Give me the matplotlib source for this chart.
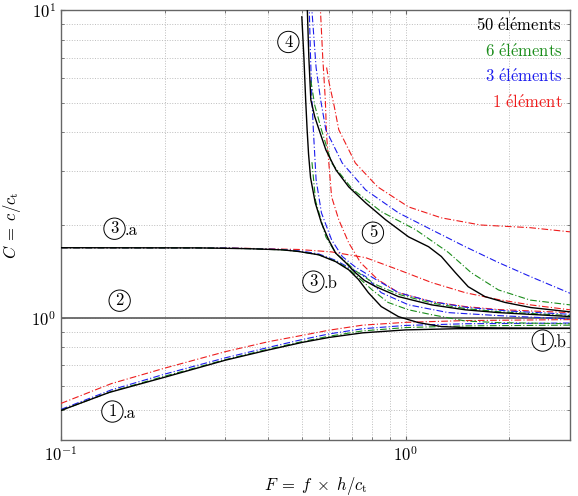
import matplotlib
matplotlib.use("Agg")
import matplotlib.pyplot as plt
from matplotlib.ticker import NullFormatter, LogLocator

plt.rcParams['mathtext.fontset'] = 'cm'
plt.rcParams['font.family'] = ['cmr10', 'DejaVu Serif']
plt.rcParams['axes.formatter.use_mathtext'] = True

# --- mode 1 (.a / .b) : lower branch ---
f_m1_50 = [0.1, 0.138, 0.2, 0.3, 0.4, 0.5, 0.6, 0.75, 1.0, 1.4, 3.0]
c_m1_50 = [0.499, 0.571, 0.64, 0.727, 0.785, 0.83, 0.862, 0.892, 0.912, 0.92, 0.922]
f_m1_6 = [0.1, 0.14, 0.2, 0.3, 0.4, 0.5, 0.6, 0.75, 1.0, 1.5, 3.0]
c_m1_6 = [0.499, 0.575, 0.645, 0.73, 0.79, 0.835, 0.87, 0.905, 0.928, 0.94, 0.945]
f_m1_3 = [0.1, 0.14, 0.2, 0.3, 0.4, 0.5, 0.6, 0.75, 1.0, 1.5, 3.0]
c_m1_3 = [0.503, 0.582, 0.655, 0.74, 0.80, 0.848, 0.885, 0.92, 0.943, 0.955, 0.96]
f_m1_1 = [0.1, 0.14, 0.2, 0.3, 0.4, 0.5, 0.6, 0.75, 1.0, 1.5, 3.0]
c_m1_1 = [0.526, 0.61, 0.685, 0.775, 0.835, 0.875, 0.91, 0.945, 0.965, 0.978, 0.985]

# --- mode 3 (.a plateau, .b drop) ---
f_m3_50 = [0.1, 0.25, 0.35, 0.44, 0.49, 0.56, 0.627, 0.684, 0.73, 0.78, 0.85, 0.954,
           1.09, 1.27, 1.49, 2.0, 3.0]
c_m3_50 = [1.687, 1.685, 1.675, 1.66, 1.64, 1.60, 1.52, 1.43, 1.33, 1.205, 1.086, 1.007,
           0.963, 0.935, 0.928, 0.925, 0.923]
f_m3_6 = [0.1, 0.25, 0.35, 0.44, 0.49, 0.56, 0.627, 0.684, 0.73, 0.8, 0.89, 1.02,
          1.19, 1.49, 1.86, 3.0]
c_m3_6 = [1.687, 1.685, 1.675, 1.66, 1.64, 1.60, 1.525, 1.44, 1.35, 1.23, 1.12, 1.06,
          1.022, 0.975, 0.963, 0.955]
f_m3_3 = [0.1, 0.3, 0.44, 0.5, 0.56, 0.627, 0.684, 0.766, 0.85, 1.02, 1.33, 1.86, 3.0]
c_m3_3 = [1.687, 1.684, 1.665, 1.645, 1.61, 1.535, 1.455, 1.36, 1.205, 1.10, 1.038, 1.015, 0.99]
f_m3_1 = [0.1, 0.3, 0.49, 0.61, 0.766, 0.954, 1.19, 1.49, 1.86, 2.3, 3.0]
c_m3_1 = [1.687, 1.685, 1.665, 1.635, 1.566, 1.43, 1.30, 1.205, 1.144, 1.10, 1.06]

# --- mode 4 ---
f_m4_50 = [0.50, 0.507, 0.513, 0.518, 0.523, 0.53, 0.547, 0.57, 0.598, 0.627, 0.67, 0.715,
           0.76, 0.82, 0.954, 1.19, 1.49, 1.86, 3.0]
c_m4_50 = [9.5, 7.0, 5.1, 4.08, 3.4, 2.85, 2.36, 2.03, 1.79, 1.62, 1.51, 1.40,
           1.32, 1.26, 1.17, 1.10, 1.06, 1.038, 1.008]
f_m4_6 = [0.535, 0.548, 0.587, 0.627, 0.67, 0.715, 0.82, 0.954, 1.19, 1.49, 1.86, 3.0]
c_m4_6 = [3.2, 2.4, 1.83, 1.62, 1.52, 1.42, 1.28, 1.19, 1.115, 1.07, 1.045, 1.015]
f_m4_3 = [0.525, 0.53, 0.535, 0.54, 0.55, 0.57, 0.61, 0.655, 0.715, 0.82, 0.954, 1.19,
          1.5, 2.0, 3.0]
c_m4_3 = [10.5, 7.0, 5.1, 4.08, 2.81, 2.19, 1.79, 1.58, 1.46, 1.33, 1.205, 1.127,
          1.08, 1.05, 1.025]
f_m4_1 = [0.565, 0.575, 0.585, 0.59, 0.61, 0.64, 0.684, 0.74, 0.83, 0.954, 1.19, 1.49,
          1.86, 3.0]
c_m4_1 = [10.5, 7.0, 5.1, 3.9, 2.47, 2.08, 1.75, 1.51, 1.33, 1.205, 1.127, 1.086,
          1.062, 1.038]

# --- mode 5 ---
f_m5_50 = [0.518, 0.524, 0.531, 0.545, 0.561, 0.587, 0.628, 0.684, 0.766, 0.875, 1.02,
           1.166, 1.27, 1.395, 1.52, 1.70, 1.945, 2.31, 3.0]
c_m5_50 = [10.5, 7.0, 5.1, 4.5, 4.08, 3.51, 3.02, 2.66, 2.36, 2.08, 1.83,
           1.70, 1.58, 1.40, 1.26, 1.17, 1.12, 1.078, 1.044]
f_m5_6 = [0.531, 0.545, 0.57, 0.61, 0.7, 0.85, 1.07, 1.33, 1.55, 1.86, 2.3, 3.0]
c_m5_6 = [5.9, 4.9, 4.08, 3.18, 2.62, 2.21, 1.93, 1.63, 1.40, 1.23, 1.14, 1.10]
f_m5_3 = [0.533, 0.55, 0.567, 0.587, 0.655, 0.766, 0.954, 1.19, 1.49, 1.86, 2.3, 3.0]
c_m5_3 = [10.5, 6.5, 5.1, 4.08, 3.18, 2.60, 2.19, 1.93, 1.70, 1.51, 1.36, 1.20]
f_m5_1 = [0.59, 0.60, 0.62, 0.64, 0.715, 0.83, 1.02, 1.27, 1.65, 2.3, 3.0]
c_m5_1 = [6.5, 5.8, 4.9, 4.08, 3.18, 2.66, 2.29, 2.11, 2.0, 1.96, 1.90]

# mode 2 : constant
f_m2 = [0.1, 3.0]
c_m2 = [1.0, 1.0]

series = [
    (r"$\mathrm{1\ \acute{e}l\acute{e}ment}$", "#ee1c1c",
     [(f_m1_1, c_m1_1), (f_m3_1, c_m3_1), (f_m4_1, c_m4_1), (f_m5_1, c_m5_1)]),
    (r"$\mathrm{3\ \acute{e}l\acute{e}ments}$", "#1c1cee",
     [(f_m1_3, c_m1_3), (f_m3_3, c_m3_3), (f_m4_3, c_m4_3), (f_m5_3, c_m5_3)]),
    (r"$\mathrm{6\ \acute{e}l\acute{e}ments}$", "#1a8c1a",
     [(f_m1_6, c_m1_6), (f_m3_6, c_m3_6), (f_m4_6, c_m4_6), (f_m5_6, c_m5_6)]),
    (r"$\mathrm{50\ \acute{e}l\acute{e}ments}$", "black",
     [(f_m1_50, c_m1_50), (f_m3_50, c_m3_50), (f_m4_50, c_m4_50), (f_m5_50, c_m5_50)]),
]

fig = plt.figure(figsize=(5.78, 4.96), dpi=100)
ax = fig.add_axes([0.1055, 0.1129, 0.8806, 0.867])

ax.plot(f_m2, c_m2, color="#666666", lw=1.3, zorder=2)

for nom, col, branches in series:
    for fx, cy in branches:
        if col == "black":
            ax.plot(fx, cy, color=col, lw=1.0, zorder=4)
        else:
            ax.plot(fx, cy, color=col, lw=0.8, ls=(0, (6, 2, 1, 2)), zorder=3)

ax.set_xscale("log")
ax.set_yscale("log")
ax.set_xlim(0.1, 3.0)
ax.set_ylim(0.4, 10)

ax.xaxis.set_minor_formatter(NullFormatter())
ax.yaxis.set_minor_formatter(NullFormatter())
ax.yaxis.set_major_locator(LogLocator(base=10, numticks=5))
ax.grid(True, which="both", color="#bdbdbd", ls=":", lw=0.7)
ax.tick_params(which="both", direction="in", top=True, right=True, color="#666666", labelsize=12)
ax.tick_params(which="major", length=3)
ax.tick_params(which="minor", length=2)
for s in ax.spines.values():
    s.set_color("#666666")
    s.set_linewidth(1.0)

ax.set_xlabel(r"$F\;=\;f\;\times\;h/c_\mathrm{t}$", fontsize=12, labelpad=8)
ax.set_ylabel(r"$C\;=\;c/c_\mathrm{t}$", fontsize=12, labelpad=6)

# legend text in the top right corner
y0 = 0.965
for i, (nom, col, _) in enumerate(series[::-1]):
    ax.text(0.985, y0 - i * 0.06, nom, color=col, fontsize=12, ha="right", va="center",
            transform=ax.transAxes)

# circled mode labels
circ = dict(boxstyle="circle,pad=0.18", fc="white", ec="black", lw=0.7)
labels = [("4", 0.457, 7.87, ""), ("3", 0.143, 1.945, ".a"), ("5", 0.804, 1.888, ""),
          ("3", 0.540, 1.309, ".b"), ("2", 0.148, 1.135, ""), ("1", 2.50, 0.842, ".b"),
          ("1", 0.141, 0.495, ".a")]
for num, fx, cy, suf in labels:
    ax.text(fx, cy, num, fontsize=12, ha="center", va="center", bbox=circ, zorder=6)
    if suf:
        ax.annotate(suf, xy=(fx, cy), xytext=(7.5, -1), textcoords="offset points",
                    fontsize=12, ha="left", va="center", zorder=6)

fig.savefig("out.png", dpi=100)
